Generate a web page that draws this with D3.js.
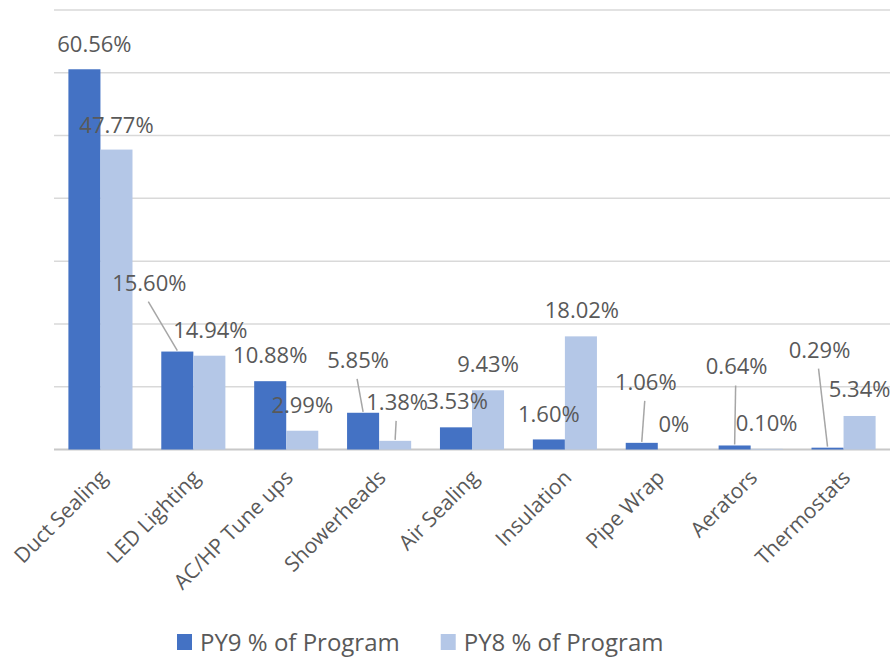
<!DOCTYPE html>
<html>
<head>
<meta charset="utf-8">
<script src="https://cdn.jsdelivr.net/npm/d3@7"></script>
<style>
  body { margin: 0; background: #fff; }
  svg { display: block; }
  text { font-family: "Open Sans", "Noto Sans", sans-serif; fill: #595959; }
</style>
</head>
<body>
<svg id="chart" width="894" height="657"></svg>
<script>
// data
let categories = ["Duct Sealing", "LED Lighting", "AC/HP Tune ups", "Showerheads", "Air Sealing",
                  "Insulation", "Pipe Wrap", "Aerators", "Thermostats"];
let seriesNames = ["PY9 % of Program", "PY8 % of Program"];
let py9Values = [60.56, 15.60, 10.88, 5.85, 3.53, 1.60, 1.06, 0.64, 0.29];
let py8Values = [47.77, 14.94, 2.99, 1.38, 9.43, 18.02, 0, 0.10, 5.34];
let py9Labels = ["60.56%", "15.60%", "10.88%", "5.85%", "3.53%", "1.60%", "1.06%", "0.64%", "0.29%"];
let py8Labels = ["47.77%", "14.94%", "2.99%", "1.38%", "9.43%", "18.02%", "0%", "0.10%", "5.34%"];
let yTicks = [0, 10, 20, 30, 40, 50, 60, 70];

// label placement (offset from bar top centre, where Excel moved them)
let py9LabelShift = [[10, -17], [-28, -61], [0, -18], [-5, -45], [1, -18], [0, -17], [4, -53], [2, -71], [-8, -90]];
let py8LabelShift = [[0, -17], [1, -18], [0, -18], [2, -31], [0, -18], [1, -18], [0, -18], [0, -18], [0, -19]];

let colors = ["#4472C4", "#B4C7E7"];
let svg = d3.select("#chart");

let plotLeft = 54, plotRight = 890, plotTop = 10, plotBottom = 449.5;

let x0 = d3.scaleBand()
	.domain(categories)
	.range([plotLeft, plotRight])
	.paddingInner(0.31)
	.paddingOuter(0.155);

let x1 = d3.scaleBand()
	.domain(seriesNames)
	.range([0, x0.bandwidth()]);

let y = d3.scaleLinear()
	.domain([0, 70])
	.range([plotBottom, plotTop]);

// gridlines
svg.append("g")
	.selectAll("line")
	.data(yTicks)
	.enter().append("line")
	.attr("x1", plotLeft)
	.attr("x2", plotRight)
	.attr("y1", function(d) { return y(d); })
	.attr("y2", function(d) { return y(d); })
	.attr("stroke", function(d) { return d == 0 ? "#c8c8c8" : "#d9d9d9"; })
	.attr("stroke-width", function(d) { return d == 0 ? 1.8 : 1.5; });

let rows = categories.map(function(c, i) {
	return [
		{ cat: c, s: seriesNames[0], v: py9Values[i], label: py9Labels[i], shift: py9LabelShift[i], color: colors[0] },
		{ cat: c, s: seriesNames[1], v: py8Values[i], label: py8Labels[i], shift: py8LabelShift[i], color: colors[1] }
	];
});
let flat = [].concat.apply([], rows);

function barCx(d) { return x0(d.cat) + x1(d.s) + x1.bandwidth()/2; }

// bars
svg.append("g")
	.selectAll("rect")
	.data(flat)
	.enter().append("rect")
	.attr("x", function(d) { return x0(d.cat) + x1(d.s); })
	.attr("y", function(d) { return y(d.v); })
	.attr("width", x1.bandwidth())
	.attr("height", function(d) { return plotBottom - y(d.v); })
	.attr("fill", function(d) { return d.color; });

// leader lines for labels that were dragged away from their bar
svg.append("g")
	.selectAll("line")
	.data(flat.filter(function(d) { return d.shift[1] < -25; }))
	.enter().append("line")
	.attr("x1", function(d) { return barCx(d) + d.shift[0] - 1; })
	.attr("y1", function(d) { return y(d.v) + d.shift[1] + 11; })
	.attr("x2", function(d) { return barCx(d); })
	.attr("y2", function(d) { return y(d.v) - 1; })
	.attr("stroke", "#a6a6a6")
	.attr("stroke-width", 1.5);

// data labels
svg.append("g")
	.selectAll("text")
	.data(flat)
	.enter().append("text")
	.attr("x", function(d) { return barCx(d) + d.shift[0]; })
	.attr("y", function(d) { return y(d.v) + d.shift[1]; })
	.attr("text-anchor", "middle")
	.style("font-size", "22px")
	.text(function(d) { return d.label; });

// category labels
svg.append("g")
	.selectAll("text")
	.data(categories)
	.enter().append("text")
	.attr("text-anchor", "end")
	.attr("transform", function(d) {
		return "translate(" + (x0(d) + x0.bandwidth()/2 + 8) + "," + 479 + ") rotate(-45)";
	})
	.style("font-size", "21px")
	.text(function(d) { return d; });

// legend
let legend = svg.append("g");
let lx = 177;
seriesNames.forEach(function(name, i) {
	legend.append("rect")
		.attr("x", lx)
		.attr("y", 634)
		.attr("width", 15)
		.attr("height", 16)
		.attr("fill", colors[i]);
	let t = legend.append("text")
		.attr("x", lx + 23)
		.attr("y", 651)
		.style("font-size", "24px")
		.text(name);
	lx = lx + 23 + t.node().getComputedTextLength() + 41;
});
</script>
</body>
</html>
